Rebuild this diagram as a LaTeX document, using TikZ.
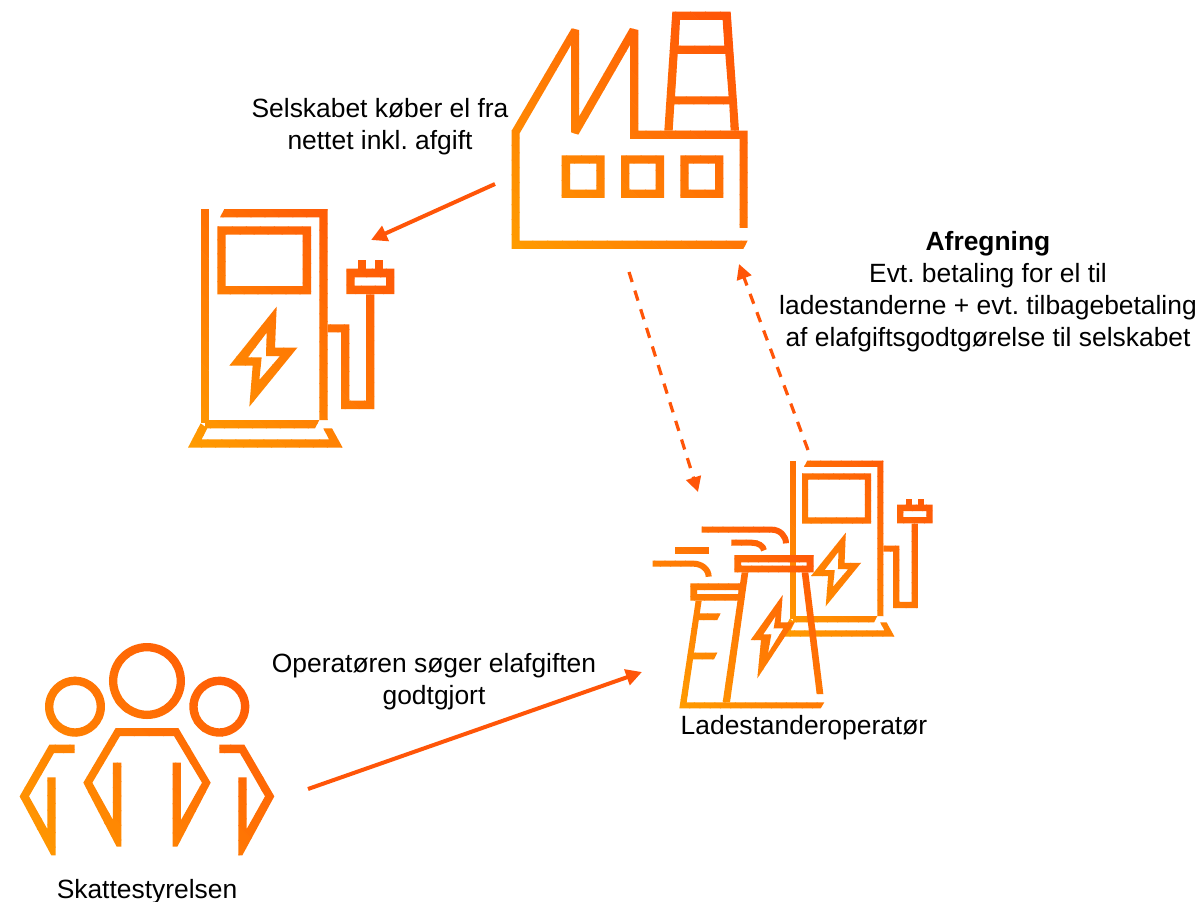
\documentclass[tikz,border=0pt]{standalone}
\usepackage{fontspec}
\setmainfont{Liberation Sans}
\usetikzlibrary{arrows.meta}
\definecolor{gradlow}{HTML}{FF9C00}
\definecolor{gradhigh}{HTML}{FF5008}
\definecolor{arrowcol}{HTML}{FF5508}
\tikzset{
  zoomfrom/.style 2 args={shift={(#1,#2)},x=0.33333pt,y=-0.33333pt},
  solid shape/.style={even odd rule},
  flow/.style={draw=arrowcol,line width=4pt,-{Triangle[length=16pt,width=16pt]}},
  dashflow/.style={draw=arrowcol,line width=3.2pt,dash pattern=on 10.5pt off 9pt,-{Triangle[length=15pt,width=15pt]}},
  label/.style={text=black,align=center,font=\fontsize{26.4}{32}\selectfont\frenchspacing,inner sep=0pt}
}
\newcommand{\factoryshape}{%
 \begin{scope}[zoomfrom={490}{0}]
  \fill[solid shape] (65,392)--(65,747)--(760,747)--(773,722)--(89,722)--(89,400)--(243,135)--(243,397)--(265,404)--(420,135)--(420,417)--(749,417)--(749,684)--(773,684)--(773,392)--(445,392)--(445,90)--(420,84)--(267,350)--(267,90)--(245,85)--cycle;
  \fill[solid shape] (547,35)--(722,35)--(747,392)--(523,392)--cycle
    (570,60)--(698,60)--(703,137)--(566,137)--cycle
    (563,162)--(706,162)--(716,289)--(555,289)--cycle
    (553,313)--(718,313)--(722,392)--(548,392)--cycle;
  \fill[solid shape] (215,466) rectangle (344,594) (240,491) rectangle (319,569);
  \fill[solid shape] (393,466) rectangle (522,594) (418,491) rectangle (497,569);
  \fill[solid shape] (571,466) rectangle (700,594) (596,491) rectangle (675,569);
 \end{scope}}
\newcommand{\chargershape}[2]{%
 \begin{scope}[shift={#1},x=#2pt,y=-#2pt]
  \fill[solid shape] (62,27) rectangle (88,670);
  \fill[solid shape] (120,52)--(133,27)--(443,27)--(443,660)--(418,660)--(418,52)--cycle;
  \fill[solid shape] (75,660)--(418,660)--(405,685)--(75,685)--cycle;
  \fill[solid shape] (62,670)--(24,743)--(488,743)--(456,685)--(430,685)--(447,718)--(65,718)--(82,685)--cycle;
  \fill[solid shape] (112,79) rectangle (393,283) (137,104) rectangle (368,258);
  \fill[solid shape] (443,373)--(508,373)--(508,602)--(558,602)--(558,283)--(583,283)--(583,627)--(483,627)--(483,397)--(443,397)--cycle;
  \fill[solid shape] (499,206) rectangle (643,282) (524,232) rectangle (618,257);
  \fill[solid shape] (533,181) rectangle (558,206);
  \fill[solid shape] (584,181) rectangle (609,206);
  \fill[solid shape] (290,320)--(285,443)--(352,443)--(208,620)--(218,497)--(148,497)--cycle
     (260,398)--(204,472)--(245,472)--(238,540)--(300,468)--(258,468)--cycle;
 \end{scope}}
\newcommand{\plantshape}{%
 \begin{scope}[zoomfrom={630}{450}]
  \fill[solid shape] (313,315) rectangle (551,367) (333,337) rectangle (530,347);
  \fill[solid shape] (335,367)--(355,367)--(300,757)--(278,757)--cycle;
  \fill[solid shape] (515,367)--(535,367)--(580,732)--(560,732)--cycle;
  \fill[solid shape] (148,775)--(572,775)--(583,757)--(170,757)--(215,452)--(197,452)--cycle;
  \fill[solid shape] (181,400) rectangle (335,452) (201,420) rectangle (325,432);
  \fill[solid shape] (205,490)--(272,490)--(262,510)--(200,510)--cycle;
  \fill[solid shape] (190,608)--(262,608)--(252,628)--(187,628)--cycle;
  \fill[solid shape] (458,435)--(452,517)--(493,517)--(382,685)--(393,570)--(362,570)--cycle
     (437,498)--(400,553)--(424,553)--(414,610)--(460,535)--(431,535)--cycle;
  \draw[line width=6pt] (215,239)--(425,239) .. controls (450,239) and (468,258) .. (468,280);
  \draw[line width=6pt] (304,278)--(365,278) .. controls (385,278) and (400,288) .. (402,301);
  \fill[solid shape] (136,292) rectangle (236,311);
  \draw[line width=6pt] (68,341)--(190,341) .. controls (215,341) and (236,358) .. (236,380);
 \end{scope}}
\newcommand{\peopleshape}{%
 \begin{scope}[zoomfrom={10}{635}]
  \fill[solid shape] (411,138) circle (114) (411,138) circle (89);
  \fill[solid shape] (195,215) circle (90) (195,215) circle (65);
  \fill[solid shape] (628,215) circle (90) (628,215) circle (65);
  \fill[solid shape] (309,383)--(334,383)--(334,635)--(320,635)--(220,443)--(317,279)--(505,279)--(602,443)--(502,635)--(488,635)--(488,383)--(513,383)--(513,555)--(576,443)--(492,303)--(330,303)--(247,443)--(309,555)--cycle;
  \fill[solid shape] (112,427)--(137,427)--(137,661)--(124,661)--(29,484)--(118,329)--(194,329)--(194,354)--(132,354)--(57,484)--(112,582)--cycle;
  \fill[solid shape] (685,427)--(710,427)--(710,582)--(765,484)--(690,354)--(628,354)--(628,329)--(703,329)--(793,484)--(697,661)--(685,661)--cycle;
 \end{scope}}
% #1 shape, #2 #3 lower-left of the gradient (x,y), #4 #5 upper-right (x,y): the
% icon is painted once per diagonal band, each band in its own colour.
\newcommand{\gradicon}[5]{%
 \foreach \k in {1,...,32}{%
  \pgfmathsetmacro\ua{#2-#3+(#4-#2+#3-#5)*(\k-1)/32}%
  \pgfmathsetmacro\ub{#2-#3+(#4-#2+#3-#5)*\k/32+0.7}%
  \pgfmathsetmacro\pct{100*(\k-0.5)/32}%
  \colorlet{bandcol}{gradhigh!\pct!gradlow}%
  \begin{scope}[color=bandcol]
   \clip ({(\ua-200)/2},{(-200-\ua)/2}) -- ({(\ub-200)/2},{(-200-\ub)/2}) -- ({(\ub+3000)/2},{(3000-\ub)/2}) -- ({(\ua+3000)/2},{(3000-\ua)/2}) -- cycle;
   #1
  \end{scope}}}
\begin{document}
\begin{tikzpicture}[x=1pt,y=-1pt]
 \useasboundingbox (0,0) rectangle (1203,902);
 \fill[white] (0,0) rectangle (1203,902);
 \gradicon{\factoryshape}{512}{250}{748}{10}
 \gradicon{\chargershape{(180,200)}{0.33333}}{188}{448}{395}{208}
 \gradicon{\chargershape{(774.57,454.03)}{0.2457}}{780}{637}{933}{460}
 \gradicon{\plantshape}{679}{708}{824}{526}
 \gradicon{\peopleshape}{20}{856}{275}{643}
 \coordinate (factoryOut) at (495,184);
 \coordinate (chargerIn) at (371,240);
 \coordinate (factoryDown) at (629,272);
 \coordinate (operatorIn) at (698,492);
 \coordinate (operatorOut) at (808,450);
 \coordinate (factoryIn) at (739,264);
 \coordinate (peopleOut) at (308,789);
 \coordinate (plantIn) at (642,672);
 \draw[flow] (factoryOut) -- (chargerIn);
 \draw[dashflow] (factoryDown) -- (operatorIn);
 \draw[dashflow] (operatorOut) -- (factoryIn);
 \draw[flow] (peopleOut) -- (plantIn);
 \node[label] (buysLabel) at (380,127) {Selskabet køber el fra\\nettet inkl. afgift};
 \node[label] (settleLabel) at (988,292) {\textbf{Afregning}\\Evt. betaling for el til\\ladestanderne + evt. tilbagebetaling\\af elafgiftsgodtgørelse til selskabet};
 \node[label] (claimLabel) at (434,682) {Operatøren søger elafgiften\\godtgjort};
 \node[label] (operatorLabel) at (804,728) {Ladestanderoperatør};
 \node[label] (taxLabel) at (147,892) {Skattestyrelsen};
\end{tikzpicture}
\end{document}
